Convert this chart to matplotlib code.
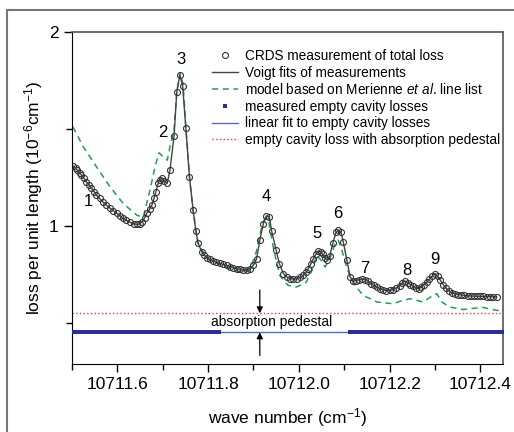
import matplotlib.pyplot as plt
import numpy as np
from matplotlib.patches import Rectangle

plt.rcParams['font.family'] = ['Liberation Sans', 'DejaVu Sans']
plt.rcParams['mathtext.fontset'] = 'custom'
plt.rcParams['mathtext.rm'] = 'Liberation Sans'
plt.rcParams['mathtext.it'] = 'Liberation Sans:italic'

# CRDS measurement of total loss (10^-6 cm^-1)
crds_x = [
    10711.503, 10711.508, 10711.512, 10711.517, 10711.521, 10711.527, 10711.532, 10711.538,
    10711.543, 10711.549, 10711.554, 10711.561, 10711.568, 10711.576, 10711.584, 10711.591,
    10711.599, 10711.606, 10711.612, 10711.620, 10711.628, 10711.636, 10711.643, 10711.649,
    10711.654, 10711.660, 10711.665, 10711.671, 10711.676, 10711.681, 10711.685, 10711.690,
    10711.694, 10711.698, 10711.703, 10711.710, 10711.716, 10711.725, 10711.731, 10711.738,
    10711.744, 10711.751, 10711.759, 10711.767, 10711.773, 10711.778, 10711.786, 10711.791,
    10711.797, 10711.804, 10711.811, 10711.818, 10711.826, 10711.833, 10711.841, 10711.848,
    10711.856, 10711.863, 10711.870, 10711.878, 10711.885, 10711.892, 10711.900, 10711.907,
    10711.914, 10711.922, 10711.928, 10711.935, 10711.940, 10711.950, 10711.957, 10711.966,
    10711.973, 10711.981, 10711.988, 10711.995, 10712.003, 10712.010, 10712.016, 10712.021,
    10712.027, 10712.032, 10712.038, 10712.043, 10712.048, 10712.053, 10712.058, 10712.062,
    10712.068, 10712.075, 10712.082, 10712.087, 10712.093, 10712.098, 10712.106, 10712.113,
    10712.120, 10712.126, 10712.132, 10712.139, 10712.146, 10712.153, 10712.159, 10712.165,
    10712.172, 10712.179, 10712.186, 10712.193, 10712.200, 10712.208, 10712.215, 10712.222,
    10712.228, 10712.234, 10712.240, 10712.246, 10712.252, 10712.258, 10712.264, 10712.270,
    10712.276, 10712.282, 10712.288, 10712.294, 10712.300, 10712.306, 10712.312, 10712.318,
    10712.324, 10712.330, 10712.337, 10712.344, 10712.351, 10712.358, 10712.365, 10712.372,
    10712.379, 10712.386, 10712.393, 10712.400, 10712.407, 10712.414, 10712.421, 10712.428,
    10712.436,
]
crds_loss = [
    1.309, 1.298, 1.289, 1.276, 1.263, 1.246, 1.228, 1.212,
    1.196, 1.178, 1.160, 1.143, 1.125, 1.109, 1.093, 1.080,
    1.067, 1.054, 1.041, 1.030, 1.021, 1.013, 1.009, 1.012,
    1.022, 1.042, 1.067, 1.088, 1.108, 1.145, 1.177, 1.222,
    1.240, 1.247, 1.234, 1.222, 1.289, 1.464, 1.692, 1.778,
    1.722, 1.504, 1.254, 1.082, 0.976, 0.914, 0.868, 0.852,
    0.839, 0.829, 0.821, 0.815, 0.809, 0.804, 0.798, 0.792,
    0.787, 0.782, 0.778, 0.773, 0.775, 0.782, 0.799, 0.833,
    0.928, 1.014, 1.052, 1.048, 0.976, 0.876, 0.808, 0.756,
    0.740, 0.730, 0.728, 0.730, 0.737, 0.747, 0.763, 0.782,
    0.808, 0.833, 0.857, 0.873, 0.868, 0.855, 0.835, 0.827,
    0.845, 0.912, 0.969, 0.979, 0.969, 0.919, 0.825, 0.739,
    0.718, 0.720, 0.724, 0.726, 0.725, 0.716, 0.705, 0.695,
    0.686, 0.678, 0.672, 0.669, 0.670, 0.674, 0.682, 0.693,
    0.708, 0.718, 0.710, 0.699, 0.690, 0.682, 0.679, 0.686,
    0.700, 0.713, 0.728, 0.744, 0.756, 0.742, 0.722, 0.700,
    0.682, 0.668, 0.658, 0.652, 0.648, 0.646, 0.644, 0.642,
    0.641, 0.640, 0.640, 0.639, 0.639, 0.638, 0.637, 0.637,
    0.636,
]

# model based on Merienne et al. line list
model_x = [
    10711.502, 10711.525, 10711.554, 10711.584, 10711.613, 10711.643, 10711.657, 10711.672,
    10711.683, 10711.692, 10711.701, 10711.710, 10711.716, 10711.725, 10711.731, 10711.738,
    10711.745, 10711.751, 10711.759, 10711.767, 10711.778, 10711.797, 10711.833, 10711.877,
    10711.892, 10711.906, 10711.919, 10711.925, 10711.934, 10711.945, 10711.958, 10711.976,
    10711.995, 10712.016, 10712.029, 10712.039, 10712.049, 10712.058, 10712.069, 10712.080,
    10712.087, 10712.095, 10712.106, 10712.120, 10712.142, 10712.172, 10712.208, 10712.230,
    10712.245, 10712.274, 10712.289, 10712.304, 10712.315, 10712.333, 10712.362, 10712.377,
    10712.406, 10712.425, 10712.450,
]
model_loss = [
    1.512, 1.409, 1.306, 1.203, 1.117, 1.057, 1.046, 1.186,
    1.306, 1.378, 1.357, 1.340, 1.409, 1.495, 1.691, 1.789,
    1.732, 1.515, 1.254, 1.082, 0.912, 0.835, 0.794, 0.758,
    0.773, 0.866, 1.005, 1.040, 1.020, 0.876, 0.747, 0.696,
    0.687, 0.711, 0.773, 0.851, 0.825, 0.790, 0.835, 0.912,
    0.928, 0.876, 0.784, 0.706, 0.644, 0.610, 0.601, 0.619,
    0.627, 0.610, 0.634, 0.653, 0.610, 0.584, 0.571, 0.576,
    0.582, 0.572, 0.562,
]

# measured empty cavity losses: two scan segments
empty_segments = [(10711.503, 10711.825), (10712.113, 10712.448)]
empty_loss = 0.454
pedestal_loss = 0.552

peak_labels = ['1', '2', '3', '4', '5', '6', '7', '8', '9']
peak_label_x = [10711.536, 10711.701, 10711.740, 10711.929, 10712.040,
                10712.086, 10712.146, 10712.238, 10712.300]
peak_label_y = [1.125, 1.485, 1.856, 1.151, 0.964, 1.067, 0.782, 0.773, 0.828]

xlim = (10711.5, 10712.45)

fig = plt.figure(figsize=(5.14, 4.32), dpi=100)
ax = fig.add_axes([0.140, 0.157, 0.8386, 0.769])

ax.plot(crds_x, crds_loss, 'o', mfc='none', mec='#333333', ms=4.3, mew=0.8,
        label='CRDS measurement of total loss', zorder=4)
ax.plot(crds_x, crds_loss, '-', color='#444444', lw=1.0,
        label='Voigt fits of measurements', zorder=3)
ax.plot(model_x, model_loss, '--', color='#1fa050', lw=1.1, dashes=(4, 3),
        label='model based on Merienne $\\mathit{et\\ al}$. line list', zorder=2)

for i, (x0, x1) in enumerate(empty_segments):
    ex = np.arange(x0, x1, 0.0015)
    ax.plot(ex, np.full_like(ex, empty_loss), 's', color='#2b2f8f', ms=2.6, mew=0,
            label='measured empty cavity losses' if i == 0 else None, zorder=3)
ax.plot(xlim, [empty_loss, empty_loss], '-', color='#5a68b8', lw=1.0,
        label='linear fit to empty cavity losses', zorder=2)
ax.plot(xlim, [pedestal_loss, pedestal_loss], ':', color='#e83a3a', lw=1.0,
        label='empty cavity loss with absorption pedestal', zorder=2)

for t, x, y in zip(peak_labels, peak_label_x, peak_label_y):
    ax.text(x, y, t, fontsize=12, ha='center', va='center')

# pedestal arrows
arrow_x = 10711.914
ax.annotate('', xy=(arrow_x, pedestal_loss), xytext=(arrow_x, 0.672),
            arrowprops=dict(arrowstyle='-|>', color='black', lw=0.9,
                            mutation_scale=9, shrinkA=0, shrinkB=0))
ax.annotate('', xy=(arrow_x, empty_loss), xytext=(arrow_x, 0.335),
            arrowprops=dict(arrowstyle='-|>', color='black', lw=0.9,
                            mutation_scale=9, shrinkA=0, shrinkB=0))
ax.text(10711.941, 0.505, 'absorption pedestal', fontsize=10, ha='center', va='center')

ax.set_xlim(*xlim)
ax.set_ylim(0.29, 2.0)
ax.set_xticks([10711.6, 10711.8, 10712.0, 10712.2, 10712.4])
ax.set_xticklabels(['10711.6', '10711.8', '10712.0', '10712.2', '10712.4'])
ax.set_xticks([10711.5, 10711.7, 10711.9, 10712.1, 10712.3], minor=True)
ax.set_yticks([1, 2])
ax.set_yticklabels(['1', '2'])
ax.set_yticks([0.5, 1.5], minor=True)
ax.tick_params(which='major', direction='out', length=6, width=1, labelsize=12.5)
ax.tick_params(which='minor', direction='out', length=4, width=1)
for s in ['top', 'right']:
    ax.spines[s].set_color('#555555')
    ax.spines[s].set_linewidth(1.2)

ax.set_xlabel('wave number (cm$^{-1}$)', fontsize=12.5, labelpad=10)
ax.set_ylabel('loss per unit length (10$^{-6}$cm$^{-1}$)', fontsize=12.5, labelpad=3)

ax.legend(loc='upper left', bbox_to_anchor=(212 / 514, 1 - 49 / 432),
          bbox_transform=fig.transFigure, frameon=False, fontsize=9.8,
          handlelength=1.91, handletextpad=0.51, labelspacing=0.19,
          borderpad=0, borderaxespad=0, numpoints=1, markerscale=1.0)

# outer frame of the original figure
fig.patches.append(Rectangle((7 / 514, -0.1), 1.2, 1.1 - 10 / 432, transform=fig.transFigure,
                             fill=False, edgecolor='#777777', lw=1.5))

fig.savefig('out.png', dpi=100)
